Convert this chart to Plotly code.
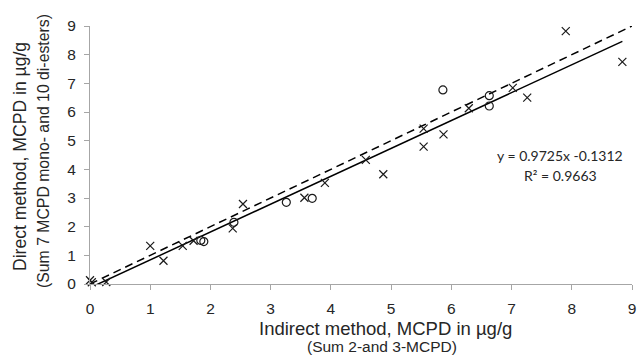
import plotly.graph_objects as go

# Data
cross_x = [0.0, 0.03, 0.27, 1.0, 1.22, 1.54, 1.72, 2.37, 2.54, 3.56, 3.9, 4.58, 4.87, 5.54, 5.54, 5.87, 6.29, 7.02, 7.26, 7.9, 8.84]
cross_y = [0.13, 0.06, 0.07, 1.33, 0.81, 1.33, 1.51, 1.94, 2.79, 3.01, 3.53, 4.33, 3.83, 4.79, 5.42, 5.22, 6.13, 6.84, 6.5, 8.82, 7.75]
circle_x = [1.84, 1.89, 2.39, 3.26, 3.69, 5.86, 6.63, 6.63]
circle_y = [1.52, 1.48, 2.15, 2.85, 2.99, 6.77, 6.57, 6.21]

slope = 0.9725
intercept = -0.1312
r2 = 0.9663

x_ticks = [0, 1, 2, 3, 4, 5, 6, 7, 8, 9]
y_ticks = [0, 1, 2, 3, 4, 5, 6, 7, 8, 9]

all_x = cross_x + circle_x
fit_x = [min(all_x), max(all_x)]
fit_y = [slope * v + intercept for v in fit_x]
ident = [0, 9]

fig = go.Figure()
fig.add_trace(go.Scatter(x=ident, y=ident, mode="lines",
                         line=dict(color="#000000", width=1.5, dash="8px,5px"),
                         showlegend=False, hoverinfo="skip"))
fig.add_trace(go.Scatter(x=fit_x, y=fit_y, mode="lines",
                         line=dict(color="#000000", width=1.5),
                         showlegend=False, hoverinfo="skip"))
fig.add_trace(go.Scatter(x=cross_x, y=cross_y, mode="markers", cliponaxis=False,
                         marker=dict(symbol="x-thin-open", size=8, color="#1a1a1a",
                                     line=dict(width=1.2, color="#1a1a1a")),
                         showlegend=False))
fig.add_trace(go.Scatter(x=circle_x, y=circle_y, mode="markers", cliponaxis=False,
                         marker=dict(symbol="circle-open", size=8, color="#1a1a1a",
                                     line=dict(width=1.2, color="#1a1a1a")),
                         showlegend=False))

axis_common = dict(showgrid=False, zeroline=False, showline=True, linecolor="#a6a6a6",
                   linewidth=1, ticks="outside", ticklen=5, tickcolor="#a6a6a6",
                   tickfont=dict(family="Liberation Sans, Arial", size=15.5, color="#262626"))

fig.update_layout(
    width=641, height=356,
    margin=dict(l=90, r=5, t=26, b=72),
    paper_bgcolor="white", plot_bgcolor="white",
    xaxis=dict(range=[0, 9], tickvals=x_ticks, ticklabelstandoff=5, **axis_common),
    yaxis=dict(range=[0, 9], tickvals=y_ticks, ticklabelstandoff=5, **axis_common),
)

fig.add_annotation(xref="paper", yref="paper", x=0.5, y=-0.171, yanchor="middle",
                   xshift=24, text="Indirect method, MCPD in µg/g", showarrow=False,
                   font=dict(family="Liberation Sans, Arial", size=18.5, color="#262626"))
fig.add_annotation(xref="paper", yref="paper", x=0.5, y=-0.244, yanchor="middle",
                   xshift=21, text="(Sum 2-and 3-MCPD)", showarrow=False,
                   font=dict(family="Liberation Sans, Arial", size=15.5, color="#262626"))
fig.add_annotation(xref="paper", yref="paper", x=0, y=0.5, xanchor="center",
                   xshift=-70, yshift=-2, textangle=-90, text="Direct method, MCPD in µg/g",
                   showarrow=False,
                   font=dict(family="Liberation Sans, Arial", size=17.6, color="#262626"))
fig.add_annotation(xref="paper", yref="paper", x=0, y=0.5, xanchor="center",
                   xshift=-47, yshift=4, textangle=-90,
                   text="(Sum 7 MCPD mono- and 10 di-esters)", showarrow=False,
                   font=dict(family="Liberation Sans, Arial", size=15.8, color="#262626"))
fig.add_annotation(x=7.8, y=(284 - 155) / 28.67, xref="x", yref="y",
                   text=f"y = {slope}x {intercept}", showarrow=False,
                   font=dict(family="Lato, Open Sans", size=14, color="#262626"))
fig.add_annotation(x=7.82, y=(284 - 175) / 28.67, xref="x", yref="y",
                   text=f"R² = {r2}", showarrow=False,
                   font=dict(family="Lato, Open Sans", size=14, color="#262626"))

fig.write_html("out.html")
